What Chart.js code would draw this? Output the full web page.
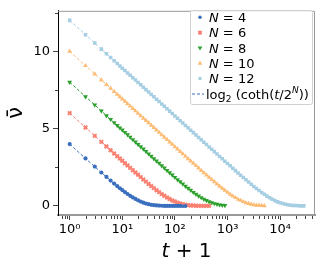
<!DOCTYPE html>
<html>
<head>
<meta charset="utf-8">
<script src="https://cdn.jsdelivr.net/npm/chart.js@4.4.1/dist/chart.umd.min.js"></script>
<style>
  html, body { margin: 0; padding: 0; background: #fff; }
  #wrap { width: 324px; height: 270px; }
</style>
</head>
<body>
<div id="wrap"><canvas id="myChart" width="324" height="270"></canvas></div>
<script>
// x values (t + 1), shared by all series
const tPlus1 = [1, 2, 3, 4, 5, 6, 7, 8, 9,
  10, 11.22, 12.59, 14.13, 15.85, 17.78, 19.95, 22.39, 25.12, 28.18,
  31.62, 35.48, 39.81, 44.67, 50.12, 56.23, 63.1, 70.79, 79.43, 89.13,
  100, 112.2, 125.9, 141.3, 158.5, 177.8, 199.5, 223.9, 251.2, 281.8,
  316.2, 354.8, 398.1, 446.7, 501.2, 562.3, 631, 707.9, 794.3, 891.3,
  1000, 1122, 1259, 1413, 1585, 1778, 1995, 2239, 2512, 2818,
  3162, 3548, 3981, 4467, 5012, 5623, 6310, 7079, 7943, 8913,
  10000, 11220, 12589, 14125, 15849, 17783, 19953, 22387, 25119, 28184]

// nu-bar for each N
const nu4 = [4.00, 3.07, 2.54, 2.16, 1.87, 1.64, 1.44, 1.28, 1.14,
  1.02, 0.89, 0.77, 0.65, 0.55, 0.45, 0.36, 0.28, 0.21, 0.15,
  0.11, 0.07, 0.05, 0.03, 0.02, 0.01, 0, 0, 0, 0,
  0, 0, 0, 0, 0]
const nu6 = [6.00, 5.07, 4.53, 4.14, 3.84, 3.60, 3.39, 3.21, 3.06,
  2.92, 2.76, 2.61, 2.46, 2.31, 2.16, 2.01, 1.86, 1.71, 1.57,
  1.42, 1.28, 1.15, 1.01, 0.89, 0.76, 0.65, 0.54, 0.44, 0.35,
  0.28, 0.21, 0.15, 0.11, 0.07, 0.05, 0.03, 0.02, 0.01, 0,
  0, 0, 0, 0]
const nu8 = [8.00, 7.07, 6.53, 6.14, 5.84, 5.60, 5.39, 5.21, 5.05,
  4.91, 4.76, 4.60, 4.45, 4.29, 4.14, 3.98, 3.83, 3.68, 3.52,
  3.37, 3.21, 3.06, 2.91, 2.76, 2.60, 2.45, 2.30, 2.15, 2.00,
  1.85, 1.70, 1.56, 1.42, 1.28, 1.14, 1.01, 0.88, 0.76, 0.64,
  0.54, 0.44, 0.35, 0.27, 0.21, 0.15, 0.11, 0.07, 0.05, 0.03]
const nu10 = [10.00, 9.07, 8.53, 8.14, 7.84, 7.60, 7.39, 7.21, 7.05,
  6.91, 6.76, 6.60, 6.45, 6.29, 6.14, 5.98, 5.83, 5.67, 5.52,
  5.37, 5.21, 5.06, 4.90, 4.75, 4.59, 4.44, 4.29, 4.13, 3.98,
  3.82, 3.67, 3.51, 3.36, 3.21, 3.05, 2.90, 2.75, 2.60, 2.44,
  2.29, 2.14, 1.99, 1.84, 1.70, 1.55, 1.41, 1.27, 1.13, 1.00,
  0.87, 0.75, 0.64, 0.53, 0.43, 0.35, 0.27, 0.20, 0.15, 0.10,
  0.07, 0.04, 0.03, 0.02, 0.01]
const nu12 = [12.00, 11.07, 10.53, 10.14, 9.84, 9.60, 9.39, 9.21, 9.05,
  8.91, 8.76, 8.60, 8.45, 8.29, 8.14, 7.98, 7.83, 7.67, 7.52,
  7.37, 7.21, 7.06, 6.90, 6.75, 6.59, 6.44, 6.28, 6.13, 5.98,
  5.82, 5.67, 5.51, 5.36, 5.20, 5.05, 4.89, 4.74, 4.59, 4.43,
  4.28, 4.12, 3.97, 3.81, 3.66, 3.51, 3.35, 3.20, 3.05, 2.89,
  2.74, 2.59, 2.43, 2.28, 2.13, 1.98, 1.83, 1.69, 1.54, 1.40,
  1.26, 1.13, 0.99, 0.87, 0.75, 0.63, 0.52, 0.43, 0.34, 0.26,
  0.20, 0.15, 0.10, 0.07, 0.04, 0.03, 0.02, 0.01, 0, 0]

const seriesN = [4, 6, 8, 10, 12]
const seriesValues = [nu4, nu6, nu8, nu10, nu12]
const xTickLabels = { 1: '10⁰', 10: '10¹', 100: '10²', 1000: '10³', 10000: '10⁴' }
const yTickValues = [0, 2.5, 5, 7.5, 10, 12.5]

const colors = ['#3a6fbf', '#fa8072', '#2ca02c', '#fdbb74', '#a6cee3']
const markers = ['circle', 'crossRot', 'triangle', 'triangle', 'rect']
const rotations = [0, 0, 180, 0, 0]
const radii = [2.1, 2.5, 2.8, 2.8, 2.5]
const FONT = 'DejaVu Sans'

// log axis tick positions 0.7 ... 40000
const xTickValues = []
for (let e = -1; e <= 4; e++) {
  for (let m = 1; m <= 9; m++) {
    let v = parseFloat((m * Math.pow(10, e)).toPrecision(6))
    if (v >= 0.61 && v <= 46000) xTickValues.push(v)
  }
}
const isDecade = (v) => Math.abs(Math.log10(v) - Math.round(Math.log10(v))) < 1e-9

let datasets = []
seriesValues.forEach((vals, s) => {
  let pts = vals.map((v, i) => ({ x: tPlus1[i], y: v }))
  datasets.push({
    label: 'N = ' + seriesN[s], data: pts, showLine: false,
    pointStyle: markers[s], rotation: rotations[s], pointRadius: radii[s],
    backgroundColor: colors[s], borderColor: colors[s],
    borderWidth: s === 1 ? 2 : 0, order: 2
  })
  datasets.push({
    label: 'theory N = ' + seriesN[s], data: pts, showLine: true,
    borderDash: [3, 2], borderWidth: 1, pointRadius: 0,
    borderColor: colors[s], fill: false, order: 1
  })
})

function drawMarker(ctx, style, x, y, r, color, rot) {
  ctx.save()
  ctx.fillStyle = color
  ctx.strokeStyle = color
  ctx.translate(x, y)
  ctx.rotate(rot * Math.PI / 180)
  ctx.beginPath()
  if (style === 'circle') {
    ctx.arc(0, 0, r, 0, 2 * Math.PI)
    ctx.fill()
  } else if (style === 'crossRot') {
    ctx.lineWidth = 2
    ctx.moveTo(-r * 0.75, -r * 0.75); ctx.lineTo(r * 0.75, r * 0.75)
    ctx.moveTo(-r * 0.75, r * 0.75); ctx.lineTo(r * 0.75, -r * 0.75)
    ctx.stroke()
  } else if (style === 'triangle') {
    ctx.moveTo(0, -r * 1.1)
    ctx.lineTo(r * 1.0, r * 0.6)
    ctx.lineTo(-r * 1.0, r * 0.6)
    ctx.closePath()
    ctx.fill()
  } else {
    let h = r * Math.SQRT1_2
    ctx.rect(-h, -h, 2 * h, 2 * h)
    ctx.fill()
  }
  ctx.restore()
}

function drawRich(ctx, parts, x, y) {
  parts.forEach(p => {
    ctx.font = p.font
    ctx.fillText(p.text, x, y + (p.dy || 0))
    x += ctx.measureText(p.text).width
  })
  return x
}

const decorations = {
  id: 'decorations',
  afterDraw(chart) {
    const ctx = chart.ctx
    const a = chart.chartArea
    const xs = chart.scales.x
    const ys = chart.scales.y
    ctx.save()
    // top and right spines
    ctx.strokeStyle = '#999'
    ctx.lineWidth = 1
    ctx.beginPath()
    ctx.moveTo(a.left, a.top + 0.5); ctx.lineTo(a.right - 0.5, a.top + 0.5)
    ctx.lineTo(a.right - 0.5, a.bottom)
    ctx.stroke()
    // minor ticks
    ctx.strokeStyle = '#444'
    ctx.beginPath()
    xTickValues.filter(v => !isDecade(v)).forEach(v => {
      let px = Math.round(xs.getPixelForValue(v)) + 0.5
      ctx.moveTo(px, a.bottom + 1); ctx.lineTo(px, a.bottom + 4)
    })
    yTickValues.filter(v => v % 5 !== 0).forEach(v => {
      let py = Math.round(ys.getPixelForValue(v)) + 0.5
      ctx.moveTo(a.left - 3, py); ctx.lineTo(a.left, py)
    })
    ctx.stroke()

    // axis titles
    ctx.fillStyle = '#000'
    ctx.textBaseline = 'middle'
    ctx.textAlign = 'center'
    ctx.save()
    ctx.translate(17, (a.top + a.bottom) / 2)
    ctx.rotate(-Math.PI / 2)
    ctx.font = '21px ' + FONT
    ctx.fillText('ν\u0304', 0, 0)
    ctx.restore()

    ctx.textAlign = 'left'
    ctx.textBaseline = 'alphabetic'
    const titleParts = [
      { text: 't', font: 'italic 20px ' + FONT },
      { text: ' + 1', font: '20px ' + FONT }
    ]
    let w = 0
    titleParts.forEach(p => { ctx.font = p.font; w += ctx.measureText(p.text).width })
    drawRich(ctx, titleParts, (a.left + a.right) / 2 - w / 2, 257)

    // legend
    ctx.fillStyle = 'rgba(255,255,255,0.85)'
    ctx.strokeStyle = '#d0d0d0'
    ctx.beginPath()
    ctx.roundRect(190.5, 10.5, 122, 94, 2)
    ctx.fill()
    ctx.stroke()
    const rowY = [17.3, 32.6, 47.9, 63.2, 78.5, 94]
    seriesN.forEach((n, s) => {
      drawMarker(ctx, markers[s], 200, rowY[s], radii[s] * 0.85, colors[s], rotations[s])
      ctx.fillStyle = '#000'
      drawRich(ctx, [
        { text: 'N', font: 'italic 13px ' + FONT },
        { text: ' = ' + n, font: '13px ' + FONT }
      ], 209, rowY[s] + 4.7)
    })
    ctx.strokeStyle = colors[0]
    ctx.lineWidth = 1
    ctx.setLineDash([3, 2])
    ctx.beginPath()
    ctx.moveTo(192, rowY[5]); ctx.lineTo(204, rowY[5])
    ctx.stroke()
    ctx.setLineDash([])
    ctx.fillStyle = '#000'
    drawRich(ctx, [
      { text: 'log', font: '13px ' + FONT },
      { text: '2', font: '9px ' + FONT, dy: 3 },
      { text: ' (coth(', font: '13px ' + FONT },
      { text: 't', font: 'italic 13px ' + FONT },
      { text: '/2', font: '13px ' + FONT },
      { text: 'N', font: 'italic 9px ' + FONT, dy: -6 },
      { text: '))', font: '13px ' + FONT }
    ], 206, rowY[5] + 4.7)
    ctx.restore()
  }
}

var ctx = document.getElementById('myChart')
var myChart = new Chart(ctx, {
  type: 'scatter',
  data: { datasets: datasets },
  options: {
    responsive: false,
    animation: false,
    devicePixelRatio: 1,
    layout: { padding: { top: 8, right: 9, left: 0, bottom: 0 } },
    plugins: { legend: { display: false }, tooltip: { enabled: false } },
    scales: {
      x: {
        type: 'logarithmic', min: 0.61, max: 46000,
        afterBuildTicks: (scale) => { scale.ticks = xTickValues.map(v => ({ value: v })) },
        afterFit: (scale) => { scale.height = 55 },
        ticks: {
          autoSkip: false, maxRotation: 0, padding: 2, color: '#000',
          font: { family: FONT, size: 13 },
          callback: (v) => xTickLabels[v] || ''
        },
        grid: {
          drawOnChartArea: false, tickLength: 5,
          tickColor: (c) => (c.tick && isDecade(c.tick.value)) ? '#444' : 'rgba(0,0,0,0)'
        },
        border: { color: '#999', width: 2 }
      },
      y: {
        type: 'linear', min: -0.59, max: 12.62,
        afterBuildTicks: (scale) => { scale.ticks = yTickValues.map(v => ({ value: v })) },
        afterFit: (scale) => { scale.width = 58 },
        ticks: {
          padding: 3, color: '#000',
          font: { family: FONT, size: 13 },
          callback: (v) => v % 5 === 0 ? String(v) : ''
        },
        grid: {
          drawOnChartArea: false, tickLength: 5,
          tickColor: (c) => (c.tick && c.tick.value % 5 === 0) ? '#444' : 'rgba(0,0,0,0)'
        },
        border: { color: '#000', width: 1 }
      }
    }
  },
  plugins: [decorations]
})
</script>
</body>
</html>
